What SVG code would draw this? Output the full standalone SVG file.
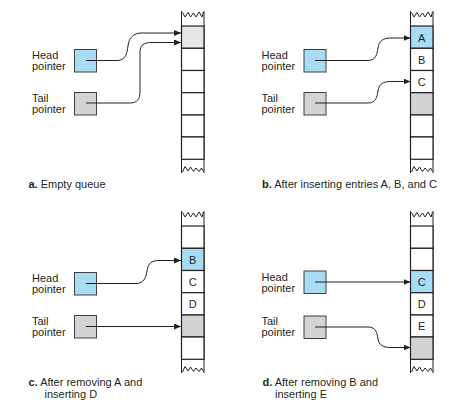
<svg xmlns="http://www.w3.org/2000/svg" width="471" height="412" viewBox="0 0 471 412">
<style>
text{font-family:"Liberation Sans",Arial,sans-serif;font-size:11px;fill:#231f20}
.b{font-weight:bold}
.cell{stroke:#231f20;stroke-width:1.2}
.side{stroke:#231f20;stroke-width:1;fill:none}
.zz{stroke:#231f20;stroke-width:1;fill:none;stroke-linejoin:miter}
.ptr{stroke:#404040;stroke-width:1}
.blue{fill:#a8dcf3}
.gray{fill:#d1d3d4}
.lgray{fill:#e6e6e6}
.white{fill:#fff}
.conn{stroke:#231f20;stroke-width:1;fill:none;marker-end:url(#ah)}
.c{text-anchor:middle}
</style>
<defs>
<marker id="ah" markerWidth="8" markerHeight="6" refX="7" refY="3" orient="auto" markerUnits="userSpaceOnUse">
<path d="M0,0 L7,3 L0,6 Z" fill="#231f20"/>
</marker>
<g id="colShape">
<line class="side" x1="181.5" y1="11" x2="181.5" y2="173"/>
<line class="side" x1="204" y1="11" x2="204" y2="173"/>
<polyline class="zz" points="182.5,12.5 185,17 188,12.5 190.5,17 193.5,13 196,17 199,12 202,17 203.5,12"/>
<polyline class="zz" points="182.5,172 185,166.5 188,171 190.5,167 193.5,171.5 196,168 199,171.5 201.5,168 203.5,171.5"/>
</g>
</defs>

<!-- Panel a -->
<g id="panel-a">
<g id="a-queue">
<use href="#colShape"/>
<rect class="cell lgray" x="181.5" y="26" width="22.5" height="22.3"/>
<rect class="cell white" x="181.5" y="48.3" width="22.5" height="22.2"/>
<rect class="cell white" x="181.5" y="70.5" width="22.5" height="22.2"/>
<rect class="cell white" x="181.5" y="92.7" width="22.5" height="22.3"/>
<rect class="cell white" x="181.5" y="115" width="22.5" height="22"/>
<rect class="cell white" x="181.5" y="137" width="22.5" height="22.3"/>
</g>
<g id="a-head">
<rect class="ptr blue" x="74.5" y="49.5" width="22" height="22.5"/>
<text x="32" y="59">Head</text>
<text x="32" y="70">pointer</text>
</g>
<g id="a-tail">
<rect class="ptr gray" x="74.5" y="92.5" width="22" height="22.5"/>
<text x="32" y="102">Tail</text>
<text x="32" y="113">pointer</text>
</g>
<text x="28.5" y="188"><tspan class="b">a.</tspan> Empty queue</text>
</g>

<!-- Panel b -->
<g id="panel-b">
<g id="b-queue">
<use href="#colShape" x="229"/>
<rect class="cell blue" x="410.5" y="26" width="22.5" height="22.3"/>
<rect class="cell white" x="410.5" y="48.3" width="22.5" height="22.2"/>
<rect class="cell white" x="410.5" y="70.5" width="22.5" height="22.2"/>
<rect class="cell gray" x="410.5" y="92.7" width="22.5" height="22.3"/>
<rect class="cell white" x="410.5" y="115" width="22.5" height="22"/>
<rect class="cell white" x="410.5" y="137" width="22.5" height="22.3"/>
<text class="c" x="421.7" y="41.5">A</text>
<text class="c" x="421.7" y="63.5">B</text>
<text class="c" x="421.7" y="85.5">C</text>
</g>
<g id="b-head">
<rect class="ptr blue" x="304" y="49.5" width="22" height="22.5"/>
<text x="261.5" y="59">Head</text>
<text x="261.5" y="70">pointer</text>
</g>
<g id="b-tail">
<rect class="ptr gray" x="304" y="92.5" width="22" height="22.5"/>
<text x="261.5" y="102">Tail</text>
<text x="261.5" y="113">pointer</text>
</g>
<text x="262" y="188"><tspan class="b">b.</tspan> After inserting entries A, B, and C</text>
</g>

<!-- Panel c -->
<g id="panel-c">
<g id="c-queue">
<use href="#colShape" y="200"/>
<rect class="cell white" x="181.5" y="226" width="22.5" height="22.3"/>
<rect class="cell blue" x="181.5" y="248.3" width="22.5" height="22.2"/>
<rect class="cell white" x="181.5" y="270.5" width="22.5" height="22.2"/>
<rect class="cell white" x="181.5" y="292.7" width="22.5" height="22.3"/>
<rect class="cell gray" x="181.5" y="315" width="22.5" height="22"/>
<rect class="cell white" x="181.5" y="337" width="22.5" height="22.3"/>
<text class="c" x="192.7" y="263.5">B</text>
<text class="c" x="192.7" y="285.5">C</text>
<text class="c" x="192.7" y="307.8">D</text>
</g>
<g id="c-head">
<rect class="ptr blue" x="74.5" y="272.5" width="22" height="22.5"/>
<text x="32" y="282">Head</text>
<text x="32" y="293">pointer</text>
</g>
<g id="c-tail">
<rect class="ptr gray" x="74.5" y="315.5" width="22" height="22.5"/>
<text x="32" y="325">Tail</text>
<text x="32" y="336">pointer</text>
</g>
<text x="28.5" y="386"><tspan class="b">c.</tspan> After removing A and</text>
<text x="44.5" y="398">inserting D</text>
</g>

<!-- Panel d -->
<g id="panel-d">
<g id="d-queue">
<use href="#colShape" x="229" y="200"/>
<rect class="cell white" x="410.5" y="226" width="22.5" height="22.3"/>
<rect class="cell white" x="410.5" y="248.3" width="22.5" height="22.2"/>
<rect class="cell blue" x="410.5" y="270.5" width="22.5" height="22.2"/>
<rect class="cell white" x="410.5" y="292.7" width="22.5" height="22.3"/>
<rect class="cell white" x="410.5" y="315" width="22.5" height="22"/>
<rect class="cell gray" x="410.5" y="337" width="22.5" height="22.3"/>
<text class="c" x="421.7" y="285.5">C</text>
<text class="c" x="421.7" y="307.8">D</text>
<text class="c" x="421.7" y="329.8">E</text>
</g>
<g id="d-head">
<rect class="ptr blue" x="304" y="271" width="22" height="22.5"/>
<text x="261.5" y="280.5">Head</text>
<text x="261.5" y="291.5">pointer</text>
</g>
<g id="d-tail">
<rect class="ptr gray" x="304" y="316" width="22" height="22.5"/>
<text x="261.5" y="325">Tail</text>
<text x="261.5" y="336">pointer</text>
</g>
<text x="262.5" y="385.5"><tspan class="b">d.</tspan> After removing B and</text>
<text x="275" y="397.5">inserting E</text>
</g>

<!-- Connectors -->
<g id="connectors">
<path class="conn" d="M86,60.5 H117 C126,60.5 127,53 128,46 C129,38 133,33 142,33 H181"/>
<path class="conn" d="M86,103 H130 C137,103 140,99 140,92 V52 C140,45 144,42.5 152,42.5 H181"/>
<path class="conn" d="M315,60.5 H368 C376,60.5 377,54 378,48 C379,41 383,38 391,38 H410.5"/>
<path class="conn" d="M315,103 H368 C376,103 377,97 378,91 C379,84 383,81.5 391,81.5 H410.5"/>
<path class="conn" d="M86,283.5 H136 C144,283.5 146,277 147,271 C148,264 151,260.5 159,260.5 H181"/>
<path class="conn" d="M86,326.5 H181"/>
<path class="conn" d="M315,282 H410.5"/>
<path class="conn" d="M315,327 H368 C376,327 377,333 378,339 C379,345 383,347.5 391,347.5 H410.5"/>
</g>
</svg>
